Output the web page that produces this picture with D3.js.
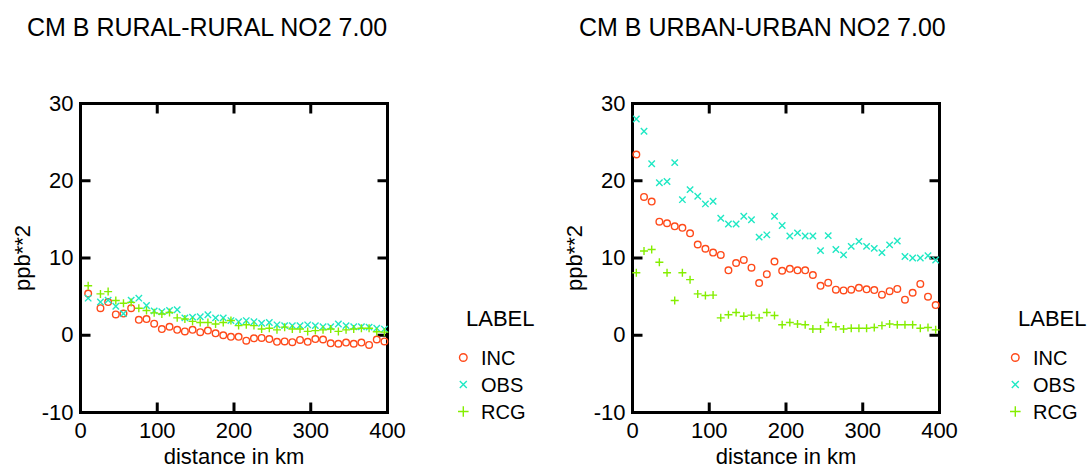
<!DOCTYPE html>
<meta charset="utf-8" />
<script src="https://d3js.org/d3.v7.min.js"></script>
<style>
  body { margin: 0; background: #fff; }
  text { font-family: "Liberation Sans", Arial, sans-serif; }
</style>
<div id="my_dataviz"></div>
<script>
  // distances (km)
  const leftDist = [10, 26, 36, 46, 56, 66, 76, 86, 96, 106, 116, 126, 136, 146, 156, 166, 176, 186, 196, 206,
    216, 226, 236, 246, 256, 266, 276, 286, 296, 306, 316, 326, 336, 346, 356, 366, 376, 386, 396];
  const rightDist = [5, 15, 25, 35, 45, 55, 65, 75, 85, 95, 105, 115, 125, 135, 145, 155, 165, 175, 185, 195,
    205, 215, 225, 235, 245, 255, 265, 275, 285, 295, 305, 315, 325, 335, 345, 355, 365, 375, 385, 395];

  // RURAL-RURAL
  const leftInc = [5.4, 3.5, 4.3, 2.7, 2.8, 3.5, 2.0, 2.1, 1.5, 0.8, 1.1, 0.7, 0.5, 0.7, 0.4, 0.6, 0.25, 0.0, -0.2, -0.2,
    -0.7, -0.4, -0.35, -0.5, -0.85, -0.8, -0.9, -0.6, -0.85, -0.5, -0.55, -1.05, -1.1, -0.95, -1.1, -0.95, -1.25, -0.55, -0.8];
  const leftObs = [4.8, 4.3, 4.55, 3.75, 2.8, 4.55, 4.8, 3.85, 3.15, 3.05, 3.2, 3.3, 2.25, 2.35, 2.4, 2.65, 2.25, 2.25, 1.9, 1.75,
    1.9, 1.75, 1.55, 1.65, 1.35, 1.25, 1.25, 1.25, 1.35, 1.25, 1.1, 1.1, 1.45, 1.25, 1.1, 1.1, 1.05, 0.9, 0.8];
  const leftRcg = [6.4, 5.35, 5.65, 4.5, 4.15, 4.25, 3.5, 3.2, 2.9, 2.75, 2.95, 2.25, 2.1, 1.8, 1.65, 1.65, 1.45, 1.65, 1.9, 1.25,
    1.35, 1.25, 0.8, 0.9, 0.7, 1.05, 0.8, 0.8, 0.5, 0.6, 0.7, 0.8, 0.5, 0.7, 0.8, 0.9, 0.9, 0.45, 0.4];

  // URBAN-URBAN
  const rightInc = [23.4, 17.9, 17.3, 14.7, 14.5, 14.1, 13.9, 13.2, 11.75, 11.2, 10.7, 10.4, 8.4, 9.35, 9.75, 8.75, 6.75, 7.9, 9.55, 8.35,
    8.6, 8.4, 8.4, 7.8, 6.4, 6.8, 5.9, 5.8, 5.9, 6.15, 5.95, 5.85, 5.25, 5.7, 6.0, 4.6, 5.5, 6.65, 5.0, 3.9];
  const rightObs = [28.0, 26.4, 22.2, 19.75, 19.9, 22.35, 17.55, 18.85, 18.0, 17.0, 17.35, 15.15, 14.4, 14.4, 15.4, 14.95, 12.7, 13.0, 15.4, 14.2,
    12.85, 13.25, 12.85, 12.85, 10.95, 12.9, 11.1, 10.4, 11.5, 12.15, 11.5, 11.25, 10.7, 11.7, 12.2, 10.2, 10.0, 10.0, 10.3, 9.75];
  const rightRcg = [8.1, 10.9, 11.1, 9.45, 8.1, 4.5, 8.1, 7.2, 5.35, 5.15, 5.2, 2.25, 2.65, 2.95, 2.45, 2.6, 2.25, 2.95, 2.55, 1.35,
    1.65, 1.45, 1.35, 0.8, 0.8, 1.65, 1.1, 0.8, 0.9, 0.9, 0.9, 1.0, 1.25, 1.45, 1.35, 1.35, 1.35, 0.9, 1.0, 0.7];

  const labels = ["INC", "OBS", "RCG"];
  const xTicks = [0, 100, 200, 300, 400];
  const yTicks = [-10, 0, 10, 20, 30];
  const colors = { INC: "#ff4a1a", OBS: "#1fe8c4", RCG: "#84ee00" };

  const width = 1092, height = 470;
  const plotW = 307, plotH = 309;

  const svg = d3.select("#my_dataviz")
    .append("svg")
    .attr("width", width)
    .attr("height", height);

  function drawPanel(offsetX, title, dist, inc, obs, rcg) {
    const g = svg.append("g").attr("transform", `translate(${offsetX + 0.5}, 103.5)`);

    const x = d3.scaleLinear().domain([0, 400]).range([0, plotW]);
    const y = d3.scaleLinear().domain([-10, 30]).range([plotH, 0]);
    const fmt = function (d) { return String(d); };

    // title
    svg.append("text")
      .attr("x", offsetX - 53)
      .attr("y", 36)
      .style("font-size", "25px")
      .text(title);

    // axes (ticks pointing inward)
    const bottom = g.append("g").attr("transform", `translate(-0.5, ${plotH})`)
      .call(d3.axisBottom(x).tickValues(xTicks).tickFormat(fmt).tickSizeInner(-10).tickSizeOuter(0).tickPadding(10));
    const left = g.append("g").attr("transform", "translate(0, -0.5)")
      .call(d3.axisLeft(y).tickValues(yTicks).tickFormat(fmt).tickSizeInner(-10).tickSizeOuter(0).tickPadding(7));
    const top = g.append("g").attr("transform", "translate(-0.5, 0)")
      .call(d3.axisTop(x).tickValues(xTicks).tickSizeInner(-10).tickSizeOuter(0).tickFormat(""));
    const right = g.append("g").attr("transform", `translate(${plotW}, -0.5)`)
      .call(d3.axisRight(y).tickValues(yTicks).tickSizeInner(-10).tickSizeOuter(0).tickFormat(""));

    [bottom, left, top, right].forEach(function (a) {
      a.select(".domain").remove();
      a.selectAll("line").attr("stroke", "#000").attr("stroke-width", 3);
      a.selectAll("text")
        .attr("fill", "#000")
        .style("font-size", "22px")
        .style("font-family", "'Liberation Sans', Arial, sans-serif");
    });

    // frame
    g.append("rect")
      .attr("x", 0).attr("y", 0)
      .attr("width", plotW).attr("height", plotH)
      .attr("fill", "none")
      .attr("stroke", "#000")
      .attr("stroke-width", 3);

    // axis titles
    g.append("text")
      .attr("x", plotW / 2)
      .attr("y", 360.5)
      .attr("text-anchor", "middle")
      .style("font-size", "22px")
      .text("distance in km");

    g.append("text")
      .attr("transform", `translate(-50.5, ${plotH / 2}) rotate(-90)`)
      .attr("text-anchor", "middle")
      .style("font-size", "22px")
      .text("ppb**2");

    // markers
    const pts = g.append("g");
    pts.selectAll(".inc")
      .data(d3.zip(dist, inc))
      .join("circle")
      .attr("class", "inc")
      .attr("cx", function (d) { return x(d[0]); })
      .attr("cy", function (d) { return y(d[1]); })
      .attr("r", 3.3)
      .attr("fill", "none")
      .attr("stroke", colors.INC)
      .attr("stroke-width", 1.4);

    pts.selectAll(".obs")
      .data(d3.zip(dist, obs))
      .join("path")
      .attr("class", "obs")
      .attr("d", function (d) {
        const cx = x(d[0]), cy = y(d[1]), s = 3.2;
        return `M${cx - s},${cy - s}L${cx + s},${cy + s}M${cx - s},${cy + s}L${cx + s},${cy - s}`;
      })
      .attr("stroke", colors.OBS)
      .attr("stroke-width", 1.4);

    pts.selectAll(".rcg")
      .data(d3.zip(dist, rcg))
      .join("path")
      .attr("class", "rcg")
      .attr("d", function (d) {
        const cx = x(d[0]), cy = y(d[1]), s = 4;
        return `M${cx - s},${cy}L${cx + s},${cy}M${cx},${cy - s}L${cx},${cy + s}`;
      })
      .attr("stroke", colors.RCG)
      .attr("stroke-width", 1.4);

    // legend
    const lg = svg.append("g").attr("transform", `translate(${offsetX + 385}, 0)`);
    lg.append("text")
      .attr("x", 1)
      .attr("y", 326)
      .style("font-size", "22px")
      .text("LABEL");

    labels.forEach(function (lab, i) {
      const cy = 357.5 + i * 27;
      if (lab === "INC") {
        lg.append("circle").attr("cx", -1.7).attr("cy", cy).attr("r", 3.8)
          .attr("fill", "none").attr("stroke", colors.INC).attr("stroke-width", 1.4);
      } else if (lab === "OBS") {
        lg.append("path")
          .attr("d", `M${-5.2},${cy - 3.5}L${1.8},${cy + 3.5}M${-5.2},${cy + 3.5}L${1.8},${cy - 3.5}`)
          .attr("stroke", colors.OBS).attr("stroke-width", 1.4);
      } else {
        lg.append("path")
          .attr("d", `M${-7},${cy}L${3.6},${cy}M${-1.7},${cy - 5.3}L${-1.7},${cy + 5.3}`)
          .attr("stroke", colors.RCG).attr("stroke-width", 1.4);
      }
      lg.append("text")
        .attr("x", 16)
        .attr("y", cy)
        .attr("dy", "0.35em")
        .style("font-size", "20px")
        .text(lab);
    });
  }

  drawPanel(80, "CM B RURAL-RURAL NO2 7.00", leftDist, leftInc, leftObs, leftRcg);
  drawPanel(632, "CM B URBAN-URBAN NO2 7.00", rightDist, rightInc, rightObs, rightRcg);
</script>
